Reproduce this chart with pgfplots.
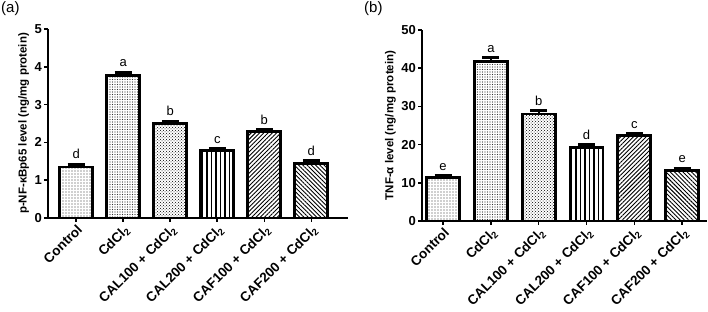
\documentclass[border=0pt]{standalone}
\usepackage{fontspec}
\setmainfont{Liberation Sans}
\usepackage{pgfplots}
\pgfplotsset{compat=1.18}
\usetikzlibrary{patterns,patterns.meta}

\pgfplotsset{
 mybase/.style={
  scale only axis,
  axis lines*=left,
  axis line style={line width=2.2pt,-},
  ymin=0,
  xtick={0,1,2,3,4,5},
  xticklabels={Control, CdCl\textsubscript{2}, CAL100 + CdCl\textsubscript{2}, CAL200 + CdCl\textsubscript{2}, CAF100 + CdCl\textsubscript{2}, CAF200 + CdCl\textsubscript{2}},
  xticklabel style={rotate=45, anchor=north east, font=\bfseries\fontsize{13.5}{13.5}\selectfont, inner sep=1pt},
  yticklabel style={font=\bfseries\fontsize{13}{13}\selectfont, inner sep=2pt},
  /pgf/number format/assume math mode=true,
  tick align=outside,
  major tick length=4pt,
  tick style={line width=1.6pt, black},
  ylabel style={font=\bfseries\fontsize{11.5}{12}\selectfont},
  clip=false,
 },
 mybar/.style={ybar, bar width=33pt, draw=black, line width=2.8pt, fill=white,
   error bars/y dir=plus, error bars/y explicit,
   error bars/error mark options={rotate=90, line width=3pt, mark size=8.5pt},
   error bars/error bar style={line width=2.2pt}},
 letters/.style={draw=none, mark=none, nodes near coords, point meta=explicit symbolic,
   nodes near coords style={font=\fontsize{13}{13}\selectfont, anchor=south, inner sep=1pt, yshift=4pt}},
}

\begin{document}
\begin{tikzpicture}
\useasboundingbox (0,0) rectangle (708pt,312pt);

% ---------- (a) ----------
\begin{axis}[mybase, at={(48pt,94pt)}, anchor=south west,
  width=300pt, height=189pt,
  xmin=-0.6, xmax=5.78, ymax=5, ytick={0,1,2,3,4,5},
  ylabel={p-NF-κBp65 level (ng/mg protein)}]
\addplot[mybar, pattern={Dots[distance=3pt, radius=0.65pt]}, pattern color=black!80] coordinates {(0,1.35) +- (0,0.07)};
\addplot[mybar, pattern={Dots[distance=2.5pt, radius=0.55pt]}, pattern color=black!80] coordinates {(1,3.78) +- (0,0.08)};
\addplot[mybar, pattern=crosshatch dots, pattern color=black] coordinates {(2,2.50) +- (0,0.06)};
\addplot[mybar, pattern={Lines[angle=90, distance=4.5pt, line width=1.3pt]}, pattern color=black] coordinates {(3,1.78) +- (0,0.06)};
\addplot[mybar, pattern={Lines[angle=45, distance=3pt, line width=0.9pt]}, pattern color=black] coordinates {(4,2.28) +- (0,0.06)};
\addplot[mybar, pattern={Lines[angle=-45, distance=3pt, line width=0.9pt]}, pattern color=black] coordinates {(5,1.45) +- (0,0.06)};
\addplot[letters] table[meta=lab] {
x y lab
0 1.42 d
1 3.86 a
2 2.56 b
3 1.84 c
4 2.34 b
5 1.51 d
};
\end{axis}

% ---------- (b) ----------
\begin{axis}[mybase, at={(422pt,91pt)}, anchor=south west,
  width=285pt, height=191pt,
  xmin=-0.44, xmax=5.52, ymax=50, ytick={0,10,20,30,40,50},
  ylabel={TNF-α level (ng/mg protein)}]
\addplot[mybar, pattern={Dots[distance=3pt, radius=0.65pt]}, pattern color=black!80] coordinates {(0,11.3) +- (0,0.6)};
\addplot[mybar, pattern={Dots[distance=2.5pt, radius=0.55pt]}, pattern color=black!80] coordinates {(1,41.8) +- (0,0.9)};
\addplot[mybar, pattern=crosshatch dots, pattern color=black] coordinates {(2,28.0) +- (0,0.8)};
\addplot[mybar, pattern={Lines[angle=90, distance=4.5pt, line width=1.3pt]}, pattern color=black] coordinates {(3,19.3) +- (0,0.6)};
\addplot[mybar, pattern={Lines[angle=45, distance=3pt, line width=0.9pt]}, pattern color=black] coordinates {(4,22.3) +- (0,0.5)};
\addplot[mybar, pattern={Lines[angle=-45, distance=3pt, line width=0.9pt]}, pattern color=black] coordinates {(5,13.3) +- (0,0.5)};
\addplot[letters] table[meta=lab] {
x y lab
0 11.9 e
1 42.7 a
2 28.8 b
3 19.9 d
4 22.8 c
5 13.8 e
};
\end{axis}

\node[anchor=north west, inner sep=0pt, font=\fontsize{15}{15}\selectfont] at (1pt,311pt) {(a)};
\node[anchor=north west, inner sep=0pt, font=\fontsize{15}{15}\selectfont] at (364pt,311pt) {(b)};
\end{tikzpicture}
\end{document}
